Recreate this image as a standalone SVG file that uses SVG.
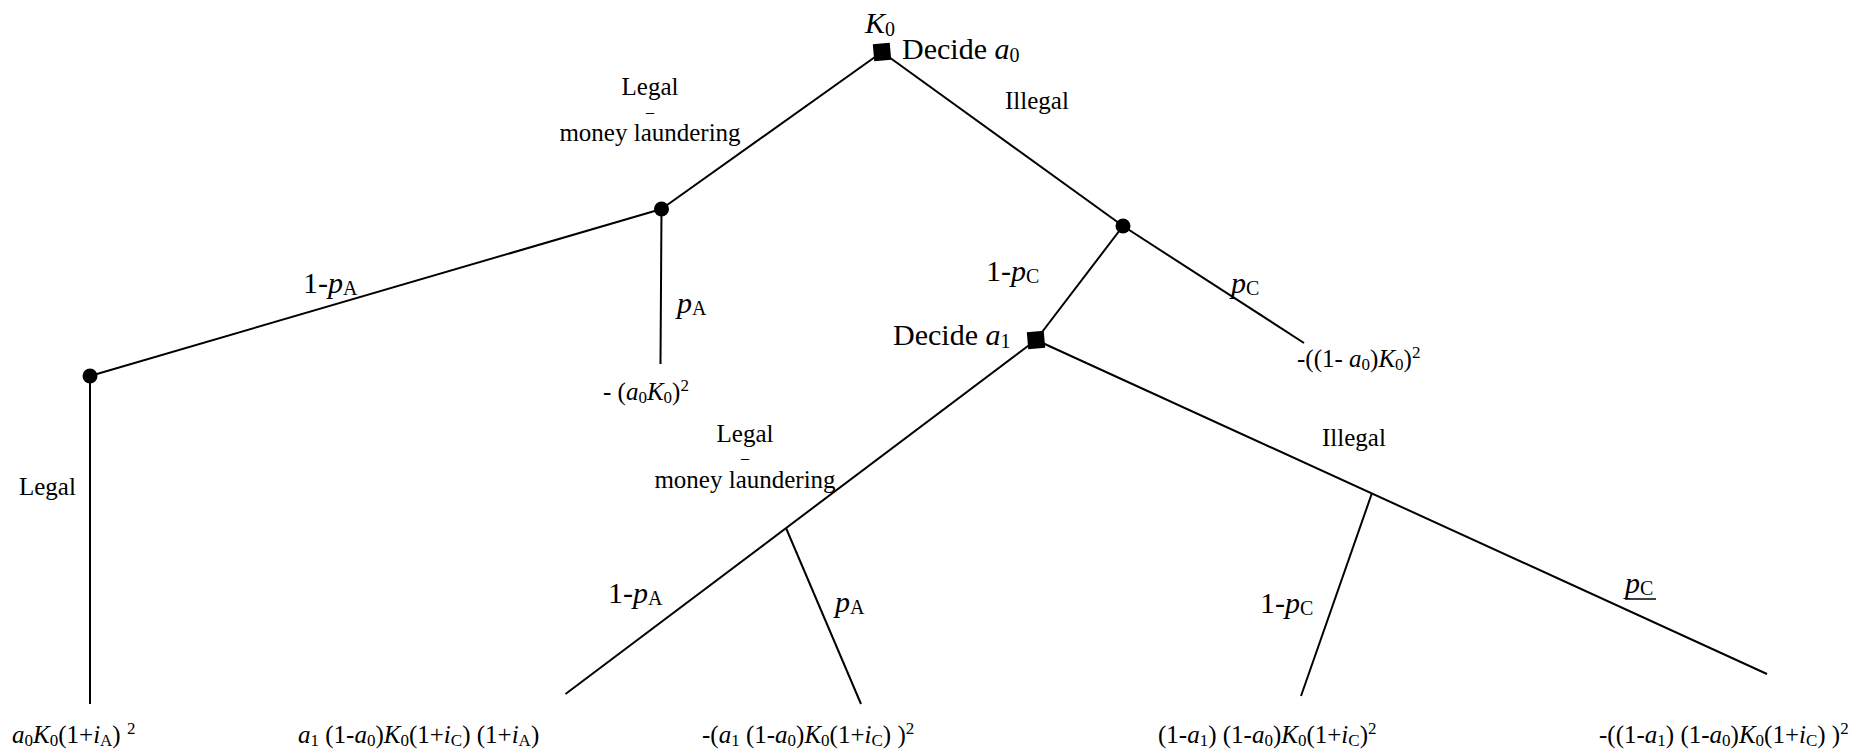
<svg xmlns="http://www.w3.org/2000/svg" width="1859" height="754" viewBox="0 0 1859 754">
<style>
text{font-family:"Liberation Serif","Times New Roman",serif;fill:#000}
.L{font-size:30px}
.M{font-size:25px}
.D{font-size:16px}
.i{font-style:italic}
.sL{font-size:20px}
.sM{font-size:17px}
.c{text-anchor:middle}
line{stroke:#000;stroke-width:2;fill:none}
.dot{fill:#000}
.sq{fill:#000}
</style>
<rect width="1859" height="754" fill="#fff"/>
<g id="connectors">
<line x1="882" y1="52" x2="661.5" y2="209"/>
<line x1="882" y1="52" x2="1123" y2="226"/>
<line x1="661.5" y1="209" x2="90" y2="376"/>
<line x1="661.5" y1="209" x2="660.5" y2="364"/>
<line x1="90" y1="376" x2="90" y2="704"/>
<line x1="1123" y1="226" x2="1036" y2="340"/>
<line x1="1123" y1="226" x2="1304" y2="343"/>
<line x1="1036" y1="340" x2="565.5" y2="694"/>
<line x1="1036" y1="340" x2="1767" y2="674"/>
<line x1="786" y1="528" x2="861" y2="704"/>
<line x1="1372" y1="493" x2="1301" y2="696"/>
</g>
<g id="root">
<rect class="sq" x="873.5" y="43.5" width="17" height="17" transform="rotate(-5 882 52)"/>
<text class="L" x="865" y="33"><tspan class="i">K</tspan><tspan class="sL" dy="3">0</tspan></text>
<text class="L" x="902" y="59">Decide <tspan class="i">a</tspan><tspan class="sL" dy="3">0</tspan></text>
</g>
<g id="label-legal-top">
<text class="M c" x="650" y="95">Legal</text>
<text class="D c" x="650" y="117">–</text>
<text class="M c" x="650" y="141">money laundering</text>
</g>
<g id="label-illegal-top">
<text class="M" x="1005" y="109">Illegal</text>
</g>
<g id="chanceA">
<circle class="dot" cx="661.5" cy="209" r="7.5"/>
<text class="L" x="303" y="293">1-<tspan class="i">p</tspan><tspan class="sL" dy="2">A</tspan></text>
<text class="L" x="677" y="313"><tspan class="i">p</tspan><tspan class="sL" dy="2">A</tspan></text>
</g>
<g id="payoff-caught0">
<text class="M" x="603" y="400">- (<tspan class="i">a</tspan><tspan class="sM" dy="3">0</tspan><tspan class="i" dy="-3">K</tspan><tspan class="sM" dy="3">0</tspan><tspan dy="-3">)</tspan><tspan class="sM" dy="-9">2</tspan></text>
</g>
<g id="legal-node">
<circle class="dot" cx="90" cy="376" r="7.5"/>
<text class="M" x="19" y="495">Legal</text>
</g>
<g id="chanceC">
<circle class="dot" cx="1123" cy="226" r="7.5"/>
<text class="L" x="986" y="281">1-<tspan class="i">p</tspan><tspan class="sL" dy="2">C</tspan></text>
<text class="L" x="1231" y="293"><tspan class="i">p</tspan><tspan class="sL" dy="2">C</tspan></text>
<text class="M" x="1297" y="367">-((1- <tspan class="i">a</tspan><tspan class="sM" dy="3">0</tspan><tspan dy="-3">)</tspan><tspan class="i">K</tspan><tspan class="sM" dy="3">0</tspan><tspan dy="-3">)</tspan><tspan class="sM" dy="-9">2</tspan></text>
</g>
<g id="decide1">
<rect class="sq" x="1027.5" y="331.5" width="17" height="17" transform="rotate(-5 1036 340)"/>
<text class="L" x="893" y="345">Decide <tspan class="i">a</tspan><tspan class="sL" dy="3">1</tspan></text>
</g>
<g id="label-legal-mid">
<text class="M c" x="745" y="442">Legal</text>
<text class="D c" x="745" y="463">–</text>
<text class="M c" x="745" y="488">money laundering</text>
</g>
<g id="label-illegal-mid">
<text class="M" x="1322" y="446">Illegal</text>
</g>
<g id="chanceA2">
<text class="L" x="608" y="603">1-<tspan class="i">p</tspan><tspan class="sL" dy="2">A</tspan></text>
<text class="L" x="835" y="612"><tspan class="i">p</tspan><tspan class="sL" dy="2">A</tspan></text>
</g>
<g id="chanceC2">
<text class="L" x="1260" y="613">1-<tspan class="i">p</tspan><tspan class="sL" dy="2">C</tspan></text>
<text class="L" x="1625" y="593"><tspan class="i">p</tspan><tspan class="sL" dy="2">C</tspan></text>
<line x1="1625" y1="599" x2="1656" y2="599" style="stroke-width:1.5"/>
</g>
<g id="payoffs">
<text class="M" x="12" y="743"><tspan class="i">a</tspan><tspan class="sM" dy="3">0</tspan><tspan class="i" dy="-3">K</tspan><tspan class="sM" dy="3">0</tspan><tspan dy="-3">(1+</tspan><tspan class="i">i</tspan><tspan class="sM" dy="3">A</tspan><tspan dy="-3">) </tspan><tspan class="sM" dy="-9">2</tspan></text>
<text class="M" x="298" y="743"><tspan class="i">a</tspan><tspan class="sM" dy="3">1</tspan><tspan dy="-3"> (1-</tspan><tspan class="i">a</tspan><tspan class="sM" dy="3">0</tspan><tspan dy="-3">)</tspan><tspan class="i">K</tspan><tspan class="sM" dy="3">0</tspan><tspan dy="-3">(1+</tspan><tspan class="i">i</tspan><tspan class="sM" dy="3">C</tspan><tspan dy="-3">) (1+</tspan><tspan class="i">i</tspan><tspan class="sM" dy="3">A</tspan><tspan dy="-3">)</tspan></text>
<text class="M" x="702" y="743">-(<tspan class="i">a</tspan><tspan class="sM" dy="3">1</tspan><tspan dy="-3"> (1-</tspan><tspan class="i">a</tspan><tspan class="sM" dy="3">0</tspan><tspan dy="-3">)</tspan><tspan class="i">K</tspan><tspan class="sM" dy="3">0</tspan><tspan dy="-3">(1+</tspan><tspan class="i">i</tspan><tspan class="sM" dy="3">C</tspan><tspan dy="-3">) )</tspan><tspan class="sM" dy="-9">2</tspan></text>
<text class="M" x="1158" y="743">(1-<tspan class="i">a</tspan><tspan class="sM" dy="3">1</tspan><tspan dy="-3">) (1-</tspan><tspan class="i">a</tspan><tspan class="sM" dy="3">0</tspan><tspan dy="-3">)</tspan><tspan class="i">K</tspan><tspan class="sM" dy="3">0</tspan><tspan dy="-3">(1+</tspan><tspan class="i">i</tspan><tspan class="sM" dy="3">C</tspan><tspan dy="-3">)</tspan><tspan class="sM" dy="-9">2</tspan></text>
<text class="M" x="1599" y="743">-((1-<tspan class="i">a</tspan><tspan class="sM" dy="3">1</tspan><tspan dy="-3">) (1-</tspan><tspan class="i">a</tspan><tspan class="sM" dy="3">0</tspan><tspan dy="-3">)</tspan><tspan class="i">K</tspan><tspan class="sM" dy="3">0</tspan><tspan dy="-3">(1+</tspan><tspan class="i">i</tspan><tspan class="sM" dy="3">C</tspan><tspan dy="-3">) )</tspan><tspan class="sM" dy="-9">2</tspan></text>
</g>
</svg>
